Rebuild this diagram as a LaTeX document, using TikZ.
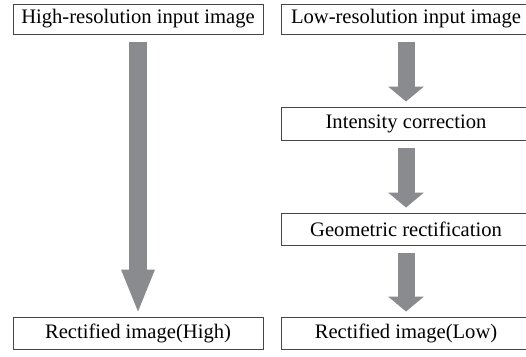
\documentclass[tikz,border=0pt]{standalone}
\usepackage{fontspec}
\setmainfont{Liberation Serif}
\usetikzlibrary{arrows.meta}

\definecolor{arrowgray}{RGB}{137,139,142}
\definecolor{boxline}{RGB}{70,70,70}

\tikzset{
  stagebox/.style={draw=boxline, line width=1pt, rectangle, minimum width=250pt,
    minimum height=32pt, inner sep=2pt, font=\fontsize{20.6}{24}\selectfont},
  flowarrow/.style={draw=arrowgray, line width=17pt, shorten <=7pt, shorten >=5pt,
    -{Triangle[width=36pt, length=15pt, line width=0pt]}},
  longarrow/.style={flowarrow, line width=18pt,
    -{Triangle[width=34pt, length=42pt, line width=0pt]}}
}

\begin{document}
\begin{tikzpicture}[x=1pt, y=-1pt]
  \useasboundingbox (0,0) rectangle (526,356);

  % high-resolution branch
  \node[stagebox, minimum height=30pt] (hiIn) at (138,19) {High-resolution input image};
  \node[stagebox] (hiOut) at (138,333) {Rectified image(High)};

  % low-resolution branch
  \node[stagebox, minimum height=30pt] (loIn) at (406,19) {Low-resolution input image};
  \node[stagebox, minimum height=33pt] (intCorr) at (406,123.5) {Intensity correction};
  \node[stagebox] (geoRect) at (406,229) {Geometric rectification};
  \node[stagebox] (loOut) at (406,333) {Rectified image(Low)};

  \draw[longarrow] (hiIn) -- (hiOut);
  \draw[flowarrow] (loIn) -- (intCorr);
  \draw[flowarrow] (intCorr) -- (geoRect);
  \draw[flowarrow] (geoRect) -- (loOut);
\end{tikzpicture}
\end{document}
